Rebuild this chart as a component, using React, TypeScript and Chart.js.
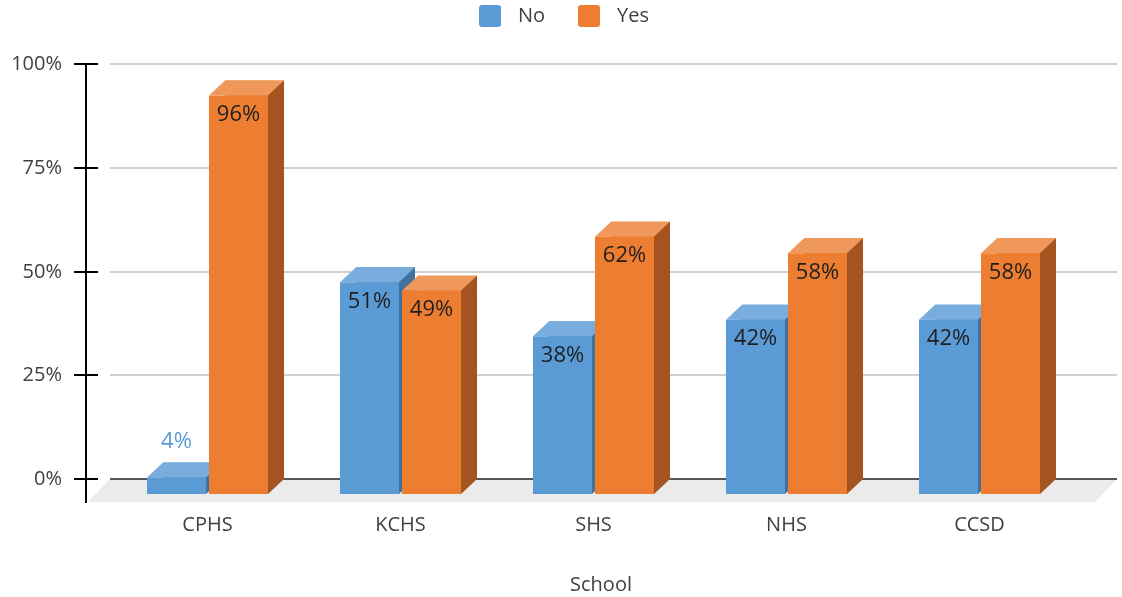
import React, { useEffect, useRef } from "react";
import { Chart, registerables } from "chart.js";

Chart.register(...registerables);

const categories = ["CPHS", "KCHS", "SHS", "NHS", "CCSD"];
const seriesNames = ["No", "Yes"];
const noValues = [4, 51, 38, 42, 42];
const yesValues = [96, 49, 62, 58, 58];
const yTicks = [0, 25, 50, 75, 100];
const axisTitle = "School";

const FONT = '"Open Sans", "Noto Sans", sans-serif';
const COLORS = [
  { front: "#5B9BD5", top: "#78ADDE", side: "#41719C" },
  { front: "#ED7D31", top: "#F0975B", side: "#A3541F" },
];
const DX = 16;
const DY = 15;

const threeD = {
  id: "threeD",
  beforeDatasetsDraw(chart: any) {
    const ctx = chart.ctx;
    const xs = chart.scales.x;
    const ys = chart.scales.y;
    const y0 = ys.getPixelForValue(0);
    ctx.save();
    // floor
    ctx.fillStyle = "#EBEBEB";
    ctx.beginPath();
    ctx.moveTo(110, y0);
    ctx.lineTo(1117, y0);
    ctx.lineTo(1095, y0 + 23);
    ctx.lineTo(88, y0 + 23);
    ctx.closePath();
    ctx.fill();
    // gridlines
    ctx.lineWidth = 2;
    ctx.strokeStyle = "#D0D0D0";
    yTicks.forEach((t) => {
      if (t === 0) return;
      const py = Math.round(ys.getPixelForValue(t));
      ctx.beginPath();
      ctx.moveTo(110, py);
      ctx.lineTo(1117, py);
      ctx.stroke();
    });
    // baseline
    ctx.strokeStyle = "#222";
    ctx.lineWidth = 1.5;
    ctx.beginPath();
    ctx.moveTo(110, Math.round(y0));
    ctx.lineTo(1117, Math.round(y0));
    ctx.stroke();
    // y axis line
    ctx.lineWidth = 2;
    ctx.strokeStyle = "#000";
    ctx.beginPath();
    ctx.moveTo(86, ys.getPixelForValue(100) - 1);
    ctx.lineTo(86, y0 + 24);
    ctx.stroke();
    // ticks + labels
    ctx.font = `20px ${FONT}`;
    ctx.fillStyle = "#404040";
    ctx.textAlign = "right";
    ctx.textBaseline = "middle";
    yTicks.forEach((t) => {
      const py = Math.round(ys.getPixelForValue(t));
      ctx.beginPath();
      ctx.moveTo(74, py);
      ctx.lineTo(98, py);
      ctx.stroke();
      ctx.fillText(`${t}%`, 62, py);
    });
    // category labels
    ctx.textAlign = "center";
    categories.forEach((c, i) => {
      ctx.fillText(c, xs.getPixelForValue(i) - DX, 525);
    });
    // axis title
    ctx.fillText(axisTitle, 601, 585);
    // legend
    const boxes = [479, 578];
    seriesNames.forEach((n, i) => {
      ctx.fillStyle = COLORS[i].front;
      ctx.beginPath();
      (ctx as any).roundRect(boxes[i], 5, 22, 22, 3);
      ctx.fill();
      ctx.fillStyle = "#404040";
      ctx.textAlign = "left";
      ctx.fillText(n, boxes[i] + 39, 16);
    });
    ctx.restore();
  },
  afterDatasetsDraw(chart: any) {
    const ctx = chart.ctx;
    ctx.save();
    const labels: any[] = [];
    categories.forEach((_, i) => {
      chart.data.datasets.forEach((ds: any, d: number) => {
        const el = chart.getDatasetMeta(d).data[i];
        const { x, y, base, width } = el.getProps(["x", "y", "base", "width"], true);
        const l = x - width / 2;
        const r = x + width / 2;
        const c = COLORS[d];
        // top
        ctx.fillStyle = c.top;
        ctx.beginPath();
        ctx.moveTo(l - DX, y + DY);
        ctx.lineTo(l, y);
        ctx.lineTo(r, y);
        ctx.lineTo(r - DX, y + DY);
        ctx.closePath();
        ctx.fill();
        // side
        ctx.fillStyle = c.side;
        ctx.beginPath();
        ctx.moveTo(r - DX, y + DY);
        ctx.lineTo(r, y);
        ctx.lineTo(r, base);
        ctx.lineTo(r - DX, base + DY);
        ctx.closePath();
        ctx.fill();
        // front
        ctx.fillStyle = c.front;
        ctx.fillRect(l - DX, y + DY, width, base - y);
        labels.push({ v: ds.data[i], cx: x - DX, top: y + DY, h: base - y, col: c.front });
      });
    });
    ctx.font = `22px ${FONT}`;
    ctx.textAlign = "center";
    ctx.textBaseline = "middle";
    labels.forEach((lb) => {
      if (lb.h < 40) {
        ctx.fillStyle = lb.col;
        ctx.fillText(`${lb.v}%`, lb.cx, lb.top - 36);
      } else {
        ctx.fillStyle = "#1F1F1F";
        ctx.fillText(`${lb.v}%`, lb.cx, lb.top + 19);
      }
    });
    ctx.restore();
  },
};

export default function App() {
  const ref = useRef<HTMLCanvasElement>(null);
  useEffect(() => {
    document.body.style.margin = "0";
    const chart = new Chart(ref.current!, {
      type: "bar",
      data: {
        labels: categories,
        datasets: [
          { label: seriesNames[0], data: noValues, backgroundColor: COLORS[0].front, categoryPercentage: 0.6425, barPercentage: 0.952 },
          { label: seriesNames[1], data: yesValues, backgroundColor: COLORS[1].front, categoryPercentage: 0.6425, barPercentage: 0.952 },
        ],
      },
      options: {
        responsive: false,
        animation: false,
        layout: { padding: { left: 127, right: 30, top: 64, bottom: 118 } },
        plugins: { legend: { display: false }, tooltip: { enabled: false } },
        scales: {
          x: { display: false },
          y: { display: false, min: 0, max: 100 },
        },
      },
      plugins: [threeD],
    });
    let alive = true;
    (document as any).fonts?.load(`20px "Open Sans"`).then(() => {
      if (alive) chart.update();
    });
    return () => {
      alive = false;
      chart.destroy();
    };
  }, []);
  return (
    <div style={{ width: 1122, height: 597 }}>
      <canvas ref={ref} width={1122} height={597} style={{ display: "block" }} />
    </div>
  );
}
